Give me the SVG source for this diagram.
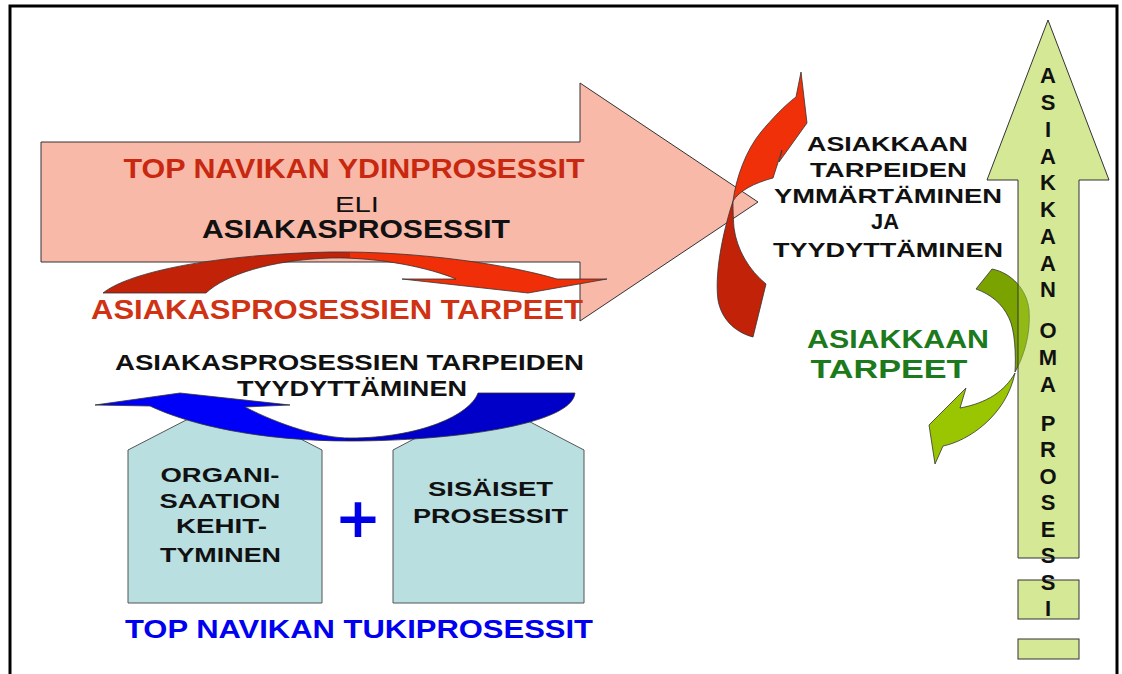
<svg xmlns="http://www.w3.org/2000/svg" width="1122" height="674" viewBox="0 0 1122 674">
<defs>
<linearGradient id="gRed" gradientUnits="userSpaceOnUse" x1="103" y1="0" x2="607" y2="0">
<stop offset="0.49" stop-color="#C22208"/><stop offset="0.49" stop-color="#F02E08"/>
</linearGradient>
<linearGradient id="gBlue" gradientUnits="userSpaceOnUse" x1="95" y1="0" x2="575" y2="0">
<stop offset="0.52" stop-color="#0000F8"/><stop offset="0.52" stop-color="#0000C8"/>
</linearGradient>
<style>
text{font-family:"Liberation Sans",Arial,sans-serif;font-weight:bold;text-anchor:middle}
.blk{fill:#111}
.box{fill:#B9DFE1;stroke:#555;stroke-width:1}
.grn{fill:#D4E896;stroke:#333;stroke-width:1}
.v{font-size:22px;fill:#111}
.edge{stroke:#333;stroke-width:0.8}
</style>
</defs>
<rect x="0" y="0" width="1122" height="674" fill="#fff"/>
<rect x="10" y="6" width="1107" height="720" fill="none" stroke="#000" stroke-width="3"/>

<g id="main-arrow">
<path d="M41,142 L580,142 L580,83 L758,202 L580,321 L580,262 L41,262 Z" fill="#F9B9A9" stroke="#333" stroke-width="1"/>
<text x="354" y="178" font-size="27" fill="#C8280F" textLength="461" lengthAdjust="spacingAndGlyphs">TOP NAVIKAN YDINPROSESSIT</text>
<text x="357" y="212" class="blk" style="font-weight:normal;font-size:22px" textLength="44" lengthAdjust="spacingAndGlyphs">ELI</text>
<text x="356" y="238" font-size="25" class="blk" textLength="308" lengthAdjust="spacingAndGlyphs">ASIAKASPROSESSIT</text>
</g>

<g id="green-curve">
<path d="M992,269 C1012,273 1027,290 1029,310 C1031,335 1023,358 1015,372 C1016,355 1015,330 1009,318 C1002,303 990,294 976,289 Z" fill="#7BA300" class="edge"/>
<path d="M1015,373 C1005,391 987,403 960,408 L966,388 L929,425 L935,464 L943,446 C968,441 1006,416 1015,373 Z" fill="#99C600" class="edge"/>
</g>

<g id="customer-process">
<path d="M1018,558 L1018,180 L987,180 L1048,20 L1109,180 L1079,180 L1079,558 Z" fill="#A9D12D" fill-opacity="0.5" stroke="#333" stroke-width="1"/>
<rect x="1018" y="580" width="61" height="39" class="grn"/>
<rect x="1018" y="639" width="61" height="20" class="grn"/>
<text class="v" x="1048" y="83">A</text>
<text class="v" x="1048" y="110">S</text>
<text class="v" x="1048" y="137">I</text>
<text class="v" x="1048" y="164">A</text>
<text class="v" x="1048" y="190">K</text>
<text class="v" x="1048" y="217">K</text>
<text class="v" x="1048" y="244">A</text>
<text class="v" x="1048" y="271">A</text>
<text class="v" x="1048" y="297">N</text>
<text class="v" x="1048" y="338">O</text>
<text class="v" x="1048" y="365">M</text>
<text class="v" x="1048" y="392">A</text>
<text class="v" x="1048" y="431">P</text>
<text class="v" x="1048" y="457">R</text>
<text class="v" x="1048" y="484">O</text>
<text class="v" x="1048" y="510">S</text>
<text class="v" x="1048" y="537">E</text>
<text class="v" x="1048" y="563">S</text>
<text class="v" x="1048" y="590">S</text>
<text class="v" x="1048" y="616">I</text>
</g>

<g id="box-org">
<path d="M128,603 L128,450 L225,400 L322,450 L322,603 Z" class="box"/>
<text x="220" y="482" font-size="21" class="blk" textLength="119" lengthAdjust="spacingAndGlyphs">ORGANI-</text>
<text x="220" y="508" font-size="21" class="blk" textLength="121" lengthAdjust="spacingAndGlyphs">SAATION</text>
<text x="221.5" y="533" font-size="21" class="blk" textLength="91" lengthAdjust="spacingAndGlyphs">KEHIT-</text>
<text x="220.5" y="562" font-size="21" class="blk" textLength="121" lengthAdjust="spacingAndGlyphs">TYMINEN</text>
</g>

<g id="box-internal">
<path d="M393,603 L393,450 L488,400 L584,450 L584,603 Z" class="box"/>
<text x="490.5" y="496" font-size="21" class="blk" textLength="125" lengthAdjust="spacingAndGlyphs">SISÄISET</text>
<text x="490.5" y="523" font-size="21" class="blk" textLength="155" lengthAdjust="spacingAndGlyphs">PROSESSIT</text>
</g>

<g id="plus">
<text x="358" y="537" font-size="56" fill="#0000E8" style="font-family:'DejaVu Sans',sans-serif">+</text>
</g>

<g id="connectors">
<path d="M103,293 C125,275 200,255 330,252 C420,251 510,265 557,279 L607,279 L528,293 L402,279 L456,279 C430,268 380,257 330,258 C270,260 225,275 206,293 Z" fill="url(#gRed)" class="edge"/>
<path d="M575,393 C572,425 450,441 350,441 C260,441 190,425 150,406 L95,405 L180,393 L290,405 L245,407 C280,425 320,438 350,438 C420,438 470,415 478,393 Z" fill="url(#gBlue)" class="edge"/>
<path d="M733,201 C736,178 746,150 761,132 C771,120 785,105 796,97 L801,72 L807,123 L779,162 L782,150 L773,178 C754,183 739,191 733,201 Z" fill="#F03008" class="edge"/>
<path d="M733,201 C725,225 714,270 718,300 C722,322 738,333 753,337 L766,284 C749,270 737,250 734,228 C733,215 733,207 733,201 Z" fill="#C22208" class="edge"/>
</g>

<g id="labels">
<text x="337" y="319" font-size="27" fill="#D03214" textLength="492" lengthAdjust="spacingAndGlyphs">ASIAKASPROSESSIEN TARPEET</text>
<text x="349.5" y="370" font-size="22" class="blk" textLength="469" lengthAdjust="spacingAndGlyphs">ASIAKASPROSESSIEN TARPEIDEN</text>
<text x="352" y="396" font-size="22" class="blk" textLength="230" lengthAdjust="spacingAndGlyphs">TYYDYTTÄMINEN</text>
<text x="359" y="638" font-size="25" fill="#0000F0" textLength="468" lengthAdjust="spacingAndGlyphs">TOP NAVIKAN TUKIPROSESSIT</text>
</g>

<g id="customer-needs-text">
<text x="887.5" y="151" font-size="21" class="blk" textLength="161" lengthAdjust="spacingAndGlyphs">ASIAKKAAN</text>
<text x="888.5" y="177" font-size="21" class="blk" textLength="157" lengthAdjust="spacingAndGlyphs">TARPEIDEN</text>
<text x="888" y="203" font-size="21" class="blk" textLength="228" lengthAdjust="spacingAndGlyphs">YMMÄRTÄMINEN</text>
<text x="885" y="229" class="blk" style="font-size:22px" textLength="28" lengthAdjust="spacingAndGlyphs">JA</text>
<text x="888" y="257" font-size="21" class="blk" textLength="230" lengthAdjust="spacingAndGlyphs">TYYDYTTÄMINEN</text>
<text x="898" y="348" font-size="25" fill="#1C7A1C" textLength="182" lengthAdjust="spacingAndGlyphs">ASIAKKAAN</text>
<text x="889" y="378" font-size="25" fill="#1C7A1C" textLength="157" lengthAdjust="spacingAndGlyphs">TARPEET</text>
</g>
</svg>
